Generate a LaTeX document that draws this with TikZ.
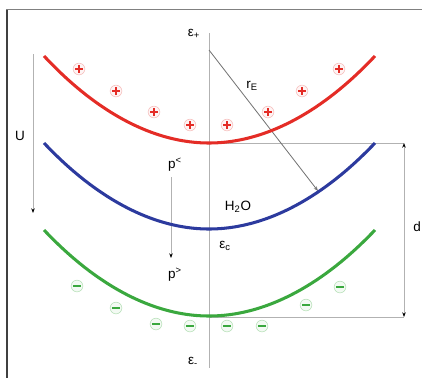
\documentclass[tikz,border=0pt]{standalone}
\usepackage{fontspec}
\setmainfont{Liberation Sans}
\usetikzlibrary{arrows.meta}
\definecolor{curvered}{RGB}{228,44,38}
\definecolor{curveblue}{RGB}{44,58,158}
\definecolor{curvegreen}{RGB}{58,168,62}
\definecolor{guidegray}{RGB}{178,178,178}
\begin{document}
\begin{tikzpicture}[x=0.03cm, y=-0.03cm,
    >={Stealth[length=4pt,width=3pt]},
    every node/.style={font=\fontsize{11.5}{13}\selectfont, inner sep=0pt},
    band/.style={line width=2.6pt},
    guide/.style={guidegray, line width=0.8pt},
    pointer/.style={->, black!55, line width=0.7pt},
    poscharge/.style={circle, minimum size=10pt, draw=curvered!30, fill=curvered!5, line width=0.5pt,
        path picture={\draw[curvered, line width=1.2pt]
            ([xshift=-3pt]path picture bounding box.center) -- ([xshift=3pt]path picture bounding box.center)
            ([yshift=-3pt]path picture bounding box.center) -- ([yshift=3pt]path picture bounding box.center);}},
    negcharge/.style={circle, minimum size=10pt, draw=curvegreen!35, fill=curvegreen!6, line width=0.5pt,
        path picture={\draw[curvegreen, line width=1.4pt]
            ([xshift=-3.2pt]path picture bounding box.center) -- ([xshift=3.2pt]path picture bounding box.center);}}]
    \useasboundingbox (0,0) rectangle (422,378);
    \draw[black!50, line width=1pt] (6,9.5) -- (422,9.5);
    \draw[black!75, line width=1pt] (7,9.5) -- (7,378);

    \coordinate (axtop) at (209,33);
    \coordinate (axbot) at (209,368);
    \coordinate (redmin) at (209,143);
    \coordinate (greenmin) at (209,317);
    \coordinate (dtop) at (404,143);
    \coordinate (dbot) at (404,317);
    \coordinate (rstart) at (209,50);
    \coordinate (rend) at (318,191);
    \coordinate (ustart) at (33,54);
    \coordinate (uend) at (33,213);
    \coordinate (pstart) at (171,177);
    \coordinate (pend) at (171,258);

    \draw[guide] (axtop) -- (axbot);
    \draw[guide] (redmin) -- (dtop);
    \draw[guide] (greenmin) -- (dbot);
    \draw[guide, <->, >={Stealth[length=4pt,width=3pt,black]}] (dtop) -- (dbot);
    \draw[guide, ->, >={Stealth[length=4pt,width=3pt,black]}] (ustart) -- (uend);
    \draw[guide, ->, >={Stealth[length=4pt,width=3pt,black]}] (pstart) -- (pend);
    \draw[pointer] (rstart) -- (rend);

    \draw[band, curvered] (44,56) parabola bend (209,143) (375,56);
    \draw[band, curveblue] (44,143) parabola bend (209,229) (375,143);
    \draw[band, curvegreen] (44,230) parabola bend (209,316) (375,230);

    \foreach \x/\y [count=\i] in {79/69, 116/91, 154/112, 190/125, 227/125, 268/112, 302/91, 339/69}
        \node[poscharge] (plus\i) at (\x,\y) {};
    \foreach \x/\y [count=\i] in {77/286, 116/308, 156/324, 190/326, 227/326, 262/326, 306/305, 340/287}
        \node[negcharge] (minus\i) at (\x,\y) {};

    \node (epsplus) at (194,34) {ε\textsubscript{+}};
    \node (epsminus) at (193,362) {ε\textsubscript{-}};
    \node (epsc) at (225,246) {ε\textsubscript{c}};
    \node (water) at (238,207) {H\textsubscript{2}O};
    \node (energy) at (20,136) {U};
    \node (radius) at (252,86) {r\textsubscript{E}};
    \node (pless) at (175,165) {p\textsuperscript{<}};
    \node (pmore) at (175,275) {p\textsuperscript{>}};
    \node (dist) at (417,227) {d};
\end{tikzpicture}
\end{document}
